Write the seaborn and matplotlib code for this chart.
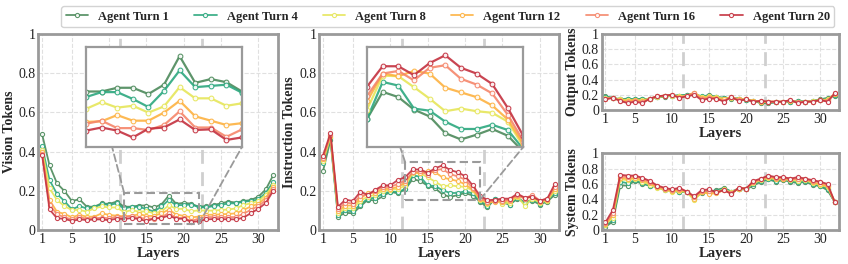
import numpy as np
import pandas as pd
import matplotlib.pyplot as plt
import seaborn as sns
from matplotlib.patches import Rectangle, ConnectionPatch

layers = list(range(1, 33))
turns = ["Agent Turn 1", "Agent Turn 4", "Agent Turn 8", "Agent Turn 12", "Agent Turn 16", "Agent Turn 20"]
colors = ["#4c8a5b", "#2ca87f", "#e6e65a", "#fdb241", "#f5866a", "#c4313f"]

# vision tokens
vision_t1 = [0.49, 0.33, 0.238, 0.199, 0.148, 0.157, 0.119, 0.119, 0.136, 0.133, 0.145, 0.119, 0.119, 0.125, 0.125, 0.115,
             0.130, 0.176, 0.133, 0.139, 0.134, 0.119, 0.122, 0.128, 0.136, 0.145, 0.14, 0.148, 0.153, 0.170, 0.207, 0.28]
vision_t4 = [0.43, 0.255, 0.184, 0.148, 0.105, 0.122, 0.110, 0.115, 0.133, 0.128, 0.136, 0.110, 0.118, 0.118, 0.107, 0.094,
             0.120, 0.153, 0.126, 0.128, 0.130, 0.117, 0.115, 0.122, 0.128, 0.136, 0.136, 0.145, 0.148, 0.156, 0.19, 0.246]
vision_t8 = [0.41, 0.213, 0.153, 0.122, 0.102, 0.102, 0.094, 0.11, 0.12, 0.115, 0.115, 0.091, 0.102, 0.093, 0.096, 0.085,
             0.095, 0.126, 0.108, 0.108, 0.096, 0.100, 0.099, 0.099, 0.102, 0.105, 0.11, 0.128, 0.136, 0.148, 0.179, 0.23]
vision_t12 = [0.40, 0.153, 0.093, 0.082, 0.065, 0.077, 0.068, 0.068, 0.085, 0.077, 0.073, 0.070, 0.071, 0.081, 0.072, 0.072,
              0.085, 0.104, 0.079, 0.072, 0.065, 0.068, 0.078, 0.078, 0.08, 0.082, 0.085, 0.102, 0.12, 0.134, 0.165, 0.22]
vision_t16 = [0.39, 0.128, 0.080, 0.065, 0.054, 0.065, 0.058, 0.06, 0.063, 0.06, 0.068, 0.067, 0.072, 0.060, 0.060, 0.057,
              0.065, 0.087, 0.061, 0.061, 0.046, 0.058, 0.066, 0.066, 0.066, 0.066, 0.066, 0.083, 0.103, 0.122, 0.152, 0.209]
vision_t20 = [0.385, 0.105, 0.060, 0.057, 0.046, 0.054, 0.051, 0.054, 0.054, 0.05, 0.058, 0.056, 0.061, 0.056, 0.045, 0.059,
              0.061, 0.074, 0.057, 0.058, 0.041, 0.045, 0.054, 0.056, 0.055, 0.055, 0.054, 0.063, 0.086, 0.108, 0.138, 0.2]

# instruction tokens
instr_t1 = [0.30, 0.46, 0.068, 0.088, 0.085, 0.12, 0.155, 0.15, 0.172, 0.195, 0.187, 0.208, 0.260, 0.250, 0.226, 0.213,
            0.181, 0.169, 0.178, 0.189, 0.176, 0.145, 0.115, 0.16, 0.14, 0.13, 0.16, 0.14, 0.15, 0.13, 0.145, 0.18]
instr_t4 = [0.34, 0.47, 0.075, 0.10, 0.095, 0.13, 0.16, 0.165, 0.185, 0.195, 0.195, 0.208, 0.279, 0.272, 0.228, 0.224,
            0.203, 0.189, 0.189, 0.197, 0.187, 0.15, 0.125, 0.16, 0.145, 0.13, 0.165, 0.14, 0.155, 0.135, 0.15, 0.19]
instr_t8 = [0.35, 0.475, 0.085, 0.11, 0.11, 0.15, 0.17, 0.18, 0.20, 0.205, 0.21, 0.226, 0.291, 0.290, 0.269, 0.247,
            0.223, 0.228, 0.223, 0.220, 0.203, 0.155, 0.135, 0.15, 0.135, 0.14, 0.17, 0.125, 0.16, 0.14, 0.15, 0.20]
instr_t12 = [0.36, 0.48, 0.095, 0.125, 0.125, 0.16, 0.19, 0.19, 0.21, 0.21, 0.22, 0.242, 0.295, 0.290, 0.300, 0.295,
             0.268, 0.259, 0.250, 0.234, 0.207, 0.16, 0.14, 0.145, 0.145, 0.15, 0.175, 0.16, 0.17, 0.145, 0.155, 0.21]
instr_t16 = [0.37, 0.485, 0.105, 0.14, 0.135, 0.175, 0.18, 0.20, 0.22, 0.22, 0.235, 0.252, 0.295, 0.300, 0.282, 0.306,
             0.311, 0.285, 0.274, 0.257, 0.216, 0.165, 0.145, 0.15, 0.15, 0.155, 0.18, 0.16, 0.18, 0.15, 0.16, 0.22]
instr_t20 = [0.38, 0.495, 0.118, 0.155, 0.148, 0.195, 0.18, 0.205, 0.228, 0.228, 0.255, 0.270, 0.309, 0.309, 0.292, 0.315,
             0.330, 0.306, 0.295, 0.275, 0.229, 0.175, 0.152, 0.155, 0.16, 0.16, 0.185, 0.165, 0.17, 0.15, 0.16, 0.235]

# output tokens
out_t1 = [0.18, 0.16, 0.14, 0.15, 0.14, 0.15, 0.14, 0.17, 0.17, 0.19, 0.19, 0.20, 0.21, 0.17, 0.20, 0.17,
          0.16, 0.15, 0.15, 0.13, 0.12, 0.09, 0.09, 0.10, 0.11, 0.11, 0.12, 0.11, 0.12, 0.14, 0.16, 0.19]
out_t4 = [0.17, 0.16, 0.14, 0.14, 0.14, 0.14, 0.15, 0.17, 0.18, 0.19, 0.19, 0.20, 0.21, 0.18, 0.19, 0.17,
          0.16, 0.16, 0.15, 0.13, 0.12, 0.10, 0.10, 0.10, 0.11, 0.11, 0.12, 0.11, 0.12, 0.13, 0.15, 0.20]
out_t8 = [0.16, 0.16, 0.14, 0.13, 0.13, 0.13, 0.15, 0.17, 0.18, 0.19, 0.18, 0.19, 0.22, 0.17, 0.18, 0.17,
          0.15, 0.16, 0.14, 0.14, 0.12, 0.11, 0.10, 0.11, 0.11, 0.12, 0.11, 0.11, 0.12, 0.13, 0.14, 0.21]
out_t12 = [0.15, 0.16, 0.13, 0.12, 0.13, 0.12, 0.15, 0.18, 0.19, 0.20, 0.17, 0.19, 0.23, 0.16, 0.17, 0.16,
           0.14, 0.17, 0.14, 0.14, 0.12, 0.11, 0.11, 0.11, 0.11, 0.12, 0.10, 0.11, 0.11, 0.13, 0.13, 0.21]
out_t16 = [0.15, 0.16, 0.12, 0.10, 0.12, 0.10, 0.15, 0.18, 0.19, 0.20, 0.16, 0.19, 0.22, 0.14, 0.16, 0.15,
           0.12, 0.17, 0.13, 0.14, 0.11, 0.12, 0.11, 0.11, 0.11, 0.13, 0.10, 0.11, 0.11, 0.13, 0.12, 0.22]
out_t20 = [0.14, 0.16, 0.12, 0.09, 0.11, 0.09, 0.15, 0.18, 0.19, 0.20, 0.16, 0.18, 0.20, 0.13, 0.15, 0.15,
           0.11, 0.17, 0.12, 0.14, 0.11, 0.12, 0.11, 0.11, 0.11, 0.13, 0.09, 0.11, 0.11, 0.13, 0.11, 0.22]

# system tokens
sys_t1 = [0.04, 0.11, 0.58, 0.58, 0.64, 0.60, 0.58, 0.56, 0.52, 0.51, 0.50, 0.49, 0.42, 0.48, 0.50, 0.52,
          0.55, 0.50, 0.53, 0.53, 0.58, 0.63, 0.66, 0.63, 0.65, 0.63, 0.61, 0.63, 0.59, 0.57, 0.52, 0.36]
sys_t4 = [0.06, 0.13, 0.63, 0.61, 0.65, 0.61, 0.58, 0.56, 0.53, 0.51, 0.50, 0.49, 0.41, 0.49, 0.50, 0.51,
          0.54, 0.50, 0.54, 0.54, 0.60, 0.64, 0.67, 0.64, 0.66, 0.64, 0.62, 0.64, 0.60, 0.58, 0.54, 0.36]
sys_t8 = [0.07, 0.16, 0.66, 0.65, 0.67, 0.63, 0.59, 0.55, 0.52, 0.50, 0.51, 0.49, 0.39, 0.49, 0.48, 0.50,
          0.53, 0.49, 0.54, 0.54, 0.61, 0.65, 0.68, 0.66, 0.66, 0.65, 0.64, 0.65, 0.61, 0.59, 0.56, 0.36]
sys_t12 = [0.08, 0.19, 0.68, 0.67, 0.68, 0.65, 0.61, 0.56, 0.53, 0.51, 0.52, 0.50, 0.41, 0.50, 0.47, 0.48,
           0.52, 0.48, 0.54, 0.54, 0.62, 0.66, 0.69, 0.67, 0.67, 0.66, 0.66, 0.66, 0.62, 0.60, 0.57, 0.36]
sys_t16 = [0.09, 0.22, 0.70, 0.69, 0.70, 0.67, 0.63, 0.57, 0.54, 0.52, 0.54, 0.50, 0.43, 0.51, 0.51, 0.49,
           0.52, 0.48, 0.55, 0.54, 0.63, 0.66, 0.70, 0.68, 0.68, 0.66, 0.67, 0.66, 0.64, 0.62, 0.59, 0.36]
sys_t20 = [0.10, 0.26, 0.72, 0.71, 0.71, 0.68, 0.64, 0.58, 0.55, 0.53, 0.55, 0.50, 0.44, 0.52, 0.53, 0.49,
           0.52, 0.47, 0.55, 0.54, 0.64, 0.67, 0.71, 0.69, 0.69, 0.67, 0.69, 0.67, 0.65, 0.63, 0.60, 0.36]


def to_long(series):
    frames = []
    for name, vals in zip(turns, series):
        frames.append(pd.DataFrame({"layer": layers, "value": vals, "turn": name}))
    return pd.concat(frames, ignore_index=True)


vision = to_long([vision_t1, vision_t4, vision_t8, vision_t12, vision_t16, vision_t20])
instr = to_long([instr_t1, instr_t4, instr_t8, instr_t12, instr_t16, instr_t20])
output = to_long([out_t1, out_t4, out_t8, out_t12, out_t16, out_t20])
system = to_long([sys_t1, sys_t4, sys_t8, sys_t12, sys_t16, sys_t20])

sns.set_theme(style="white")
plt.rcParams["font.family"] = ["Liberation Serif", "DejaVu Serif"]

EDGE = "#9a9a9a"


def draw_lines(ax, df, lw=1.3, ms=3.0):
    sns.lineplot(data=df, x="layer", y="value", hue="turn", palette=colors, hue_order=turns,
                 marker="o", markersize=ms, linewidth=lw, alpha=0.9, legend=False, ax=ax)
    for ln in ax.lines:
        ln.set_markerfacecolor("white")
        ln.set_markeredgecolor(ln.get_color())
        ln.set_markeredgewidth(0.8)


def style_panel(ax, ylabel):
    ax.set_xlim(0.5, 32.6)
    ax.set_ylim(0, 1)
    ax.set_xticks([1, 5, 10, 15, 20, 25, 30])
    ax.set_yticks([0, 0.2, 0.4, 0.6, 0.8, 1])
    ax.set_yticklabels(["0", "0.2", "0.4", "0.6", "0.8", "1"])
    ax.grid(True, linestyle="--", color="#e0e0e0", linewidth=0.8)
    ax.set_axisbelow(True)
    for s in ax.spines.values():
        s.set_color(EDGE)
        s.set_linewidth(2)
    ax.tick_params(length=0, labelsize=10, pad=2, colors="#222222")
    ax.set_xlabel("Layers", fontsize=10.5, fontweight="bold", labelpad=1)
    ax.set_ylabel(ylabel, fontsize=10, fontweight="bold", labelpad=2)
    for x in (11.5, 22.5):
        ax.axvline(x, color="#cfcfcf", linestyle=(0, (5, 3)), linewidth=2, zorder=1)


def add_inset(ax, df, box, inset_pos):
    x0, x1, y0, y1 = box
    ins = ax.inset_axes(inset_pos)
    draw_lines(ins, df, lw=1.6, ms=3.4)
    ins.set_xlim(x0, x1)
    ins.set_ylim(y0, y1)
    ins.set_xticks([])
    ins.set_yticks([])
    ins.set_xlabel("")
    ins.set_ylabel("")
    ins.set_facecolor("white")
    for s in ins.spines.values():
        s.set_color(EDGE)
        s.set_linewidth(1.6)
    ax.add_patch(Rectangle((x0, y0), x1 - x0, y1 - y0, fill=False, edgecolor=EDGE,
                           linestyle=(0, (4, 2)), linewidth=1.5, zorder=5))
    for (xa, ya), (xb, yb) in [((x0, y1), (0, 1)), ((x1, y0), (1, 0))]:
        con = ConnectionPatch(xyA=(xa, ya), coordsA=ax.transData, xyB=(xb, yb), coordsB=ins.transAxes,
                              color=EDGE, linestyle=(0, (4, 2)), linewidth=1.3, zorder=4)
        ax.add_artist(con)


fig = plt.figure(figsize=(8.48, 2.64), dpi=100)
ax1 = fig.add_axes([0.0452, 0.1288, 0.2823, 0.742])
ax2 = fig.add_axes([0.3765, 0.1288, 0.2830, 0.742])
ax3 = fig.add_axes([0.7096, 0.5833, 0.2802, 0.288])
ax4 = fig.add_axes([0.7096, 0.1288, 0.2802, 0.2905])

draw_lines(ax1, vision)
style_panel(ax1, "Vision Tokens")
add_inset(ax1, vision, (12, 22, 0.03, 0.19), [0.199, 0.425, 0.652, 0.507])

draw_lines(ax2, instr)
style_panel(ax2, "Instruction Tokens")
add_inset(ax2, instr, (12, 22, 0.155, 0.345), [0.199, 0.425, 0.652, 0.507])

draw_lines(ax3, output)
style_panel(ax3, "Output Tokens")
draw_lines(ax4, system)
style_panel(ax4, "System Tokens")

handles = ax3.lines[:6]
fig.legend(handles, turns, loc="upper center", bbox_to_anchor=(0.528, 1.0), ncol=6,
           frameon=True, edgecolor="#c8c8c8", prop={"weight": "bold", "size": 9},
           handlelength=1.8, columnspacing=2.0, handletextpad=0.8, borderpad=0.35)

fig.savefig("out.png", dpi=100)
